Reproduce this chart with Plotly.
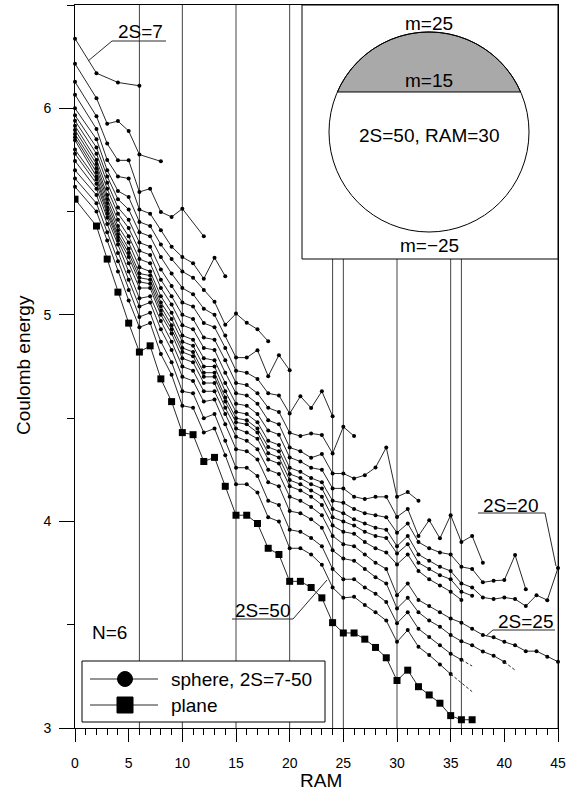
import math
import plotly.graph_objects as go

# ------------------------------------------------------------------ data
RAM_PLANE = [0] + list(range(2, 38))
E_PLANE = [5.56, 5.43, 5.27, 5.11, 4.96, 4.82, 4.85, 4.69, 4.58, 4.43, 4.42, 4.29,
           4.31, 4.17, 4.03, 4.03, 3.99, 3.87, 3.84, 3.71, 3.71, 3.68, 3.63, 3.51,
           3.46, 3.46, 3.43, 3.39, 3.34, 3.23, 3.28, 3.20, 3.16, 3.12, 3.06, 3.04, 3.04]

# sphere curves: energies at RAM = 0, 2, 3, 4, ...  (None = no state)
E_2S07 = [6.337, 6.170, None, 6.125, None, 6.109]
E_2S08 = [6.216, 6.049, 5.925, 5.938, 5.890, 5.776, None, 5.743]
E_2S09 = [6.128, 5.961, 5.829, 5.748, 5.748, 5.595, 5.611, 5.498, 5.474, 5.514, None, 5.380]
E_2S10 = [6.066, 5.90, 5.75, 5.67, 5.66, 5.51, 5.49, 5.41, 5.33, 5.28, 5.25, 5.175, 5.277, 5.187]
E_2S11 = [6.00, 5.85, 5.70, 5.60, 5.57, 5.45, 5.43, 5.34, 5.27, 5.21, 5.18, 5.12, 5.063, 4.952,
          5.006, 4.962, 4.93, 4.872]
E_2S12 = [5.966, 5.81, 5.67, 5.56, 5.51, 5.40, 5.38, 5.28, 5.20, 5.13, 5.10, 5.03, 5.00, 4.90,
          4.793, 4.793, 4.829, 4.703, 4.805, 4.732]
E_2S13 = [5.94, 5.78, 5.64, 5.52, 5.46, 5.35, 5.33, 5.22, 5.14, 5.06, 5.04, 4.96, 4.94, 4.84,
          4.73, 4.72, 4.69, 4.62, 4.61, 4.522, 4.606, 4.549, 4.630, 4.509]
E_2S14 = [5.915, 5.75, 5.61, 5.49, 5.42, 5.31, 5.29, 5.17, 5.09, 5.00, 4.98, 4.89, 4.88, 4.78,
          4.67, 4.66, 4.62, 4.55, 4.53, 4.429, 4.413, 4.426, 4.418, 4.329, 4.458, 4.413]
E_2S16 = [5.895, 5.73, 5.58, 5.46, 5.38, 5.27, 5.25, 5.13, 5.05, 4.95, 4.93, 4.84, 4.83, 4.72,
          4.62, 4.61, 4.57, 4.49, 4.47, 4.358, 4.340, 4.308, 4.326, 4.232, 4.232, 4.208, 4.224,
          4.261, 4.358, 4.119, 4.142, 4.10]
E_2S18 = [5.875, 5.71, 5.56, 5.43, 5.35, 5.23, 5.21, 5.09, 5.01, 4.90, 4.88, 4.79, 4.78, 4.67,
          4.57, 4.56, 4.52, 4.44, 4.42, 4.31, 4.29, 4.26, 4.25, 4.16, 4.16, 4.12, 4.108, 4.119,
          4.119, 4.022, 4.06, 3.93, 4.006, 3.918, 4.030, 3.90, 3.93, 3.80]
E_2S19 = [5.86, 5.69, 5.54, 5.41, 5.32, 5.20, 5.19, 5.06, 4.98, 4.87, 4.85, 4.75, 4.75, 4.63,
          4.53, 4.52, 4.48, 4.39, 4.37, 4.26, 4.24, 4.21, 4.19, 4.10, 4.09, 4.06, 4.04, 4.03,
          4.02, 3.945, 3.99, 3.90, 3.87, 3.85, 3.84, 3.78, 3.77, 3.705, 3.713, 3.716, 3.837, 3.672]
E_2S20 = [5.845, 5.67, 5.52, 5.39, 5.30, 5.18, 5.17, 5.04, 4.95, 4.84, 4.82, 4.72, 4.72, 4.60,
          4.50, 4.49, 4.45, 4.36, 4.34, 4.23, 4.21, 4.18, 4.16, 4.06, 4.04, 4.01, 3.99, 3.97,
          3.96, 3.880, 3.93, 3.84, 3.81, 3.78, 3.76, 3.70, 3.68, 3.632, 3.624, 3.632, 3.624,
          3.590, 3.643, 3.619, 3.775]
E_2S21 = [5.80, 5.655, 5.505, 5.375, 5.28, 5.16, 5.15, 5.02, 4.93, 4.82, 4.80, 4.70, 4.70,
          4.58, 4.48, 4.47, 4.43, 4.33, 4.31, 4.20, 4.18, 4.15, 4.12, 4.02, 4.00, 3.98, 3.95,
          3.93, 3.92, 3.845, 3.89, 3.80, 3.77, 3.74, 3.72, 3.66, 3.64]
E_2S22 = [5.78, 5.635, 5.49, 5.36, 5.25, 5.13, 5.13, 5.00, 4.91, 4.79, 4.77, 4.67, 4.67, 4.55,
          4.45, 4.43, 4.40, 4.30, 4.28, 4.17, 4.15, 4.12, 4.08, 3.98, 3.95, 3.94, 3.90, 3.87,
          3.85, 3.792, 3.84, 3.76, 3.72, 3.69, 3.66, 3.62]
E_2S25 = [5.745, 5.61, 5.47, 5.34, 5.21, 5.08, 5.09, 4.97, 4.87, 4.75, 4.73, 4.63, 4.63, 4.52,
          4.41, 4.39, 4.35, 4.25, 4.23, 4.12, 4.10, 4.07, 4.03, 3.93, 3.89, 3.88, 3.84, 3.80,
          3.77, 3.643, 3.70, 3.62, 3.59, 3.56, 3.53, 3.51, 3.48, 3.45, 3.439, 3.417, 3.40,
          3.372, 3.372, 3.345, 3.321]
E_2S30 = [5.70, 5.58, 5.44, 5.30, 5.17, 5.04, 5.06, 4.93, 4.83, 4.70, 4.68, 4.58, 4.59, 4.47,
          4.35, 4.34, 4.30, 4.19, 4.17, 4.05, 4.04, 4.01, 3.97, 3.86, 3.82, 3.81, 3.77, 3.73,
          3.70, 3.579, 3.63, 3.56, 3.52, 3.49, 3.45, 3.42, 3.40, 3.37, 3.35, 3.32]
E_2S40 = [5.66, 5.54, 5.40, 5.26, 5.12, 4.99, 5.01, 4.87, 4.77, 4.63, 4.62, 4.50, 4.52, 4.39,
          4.26, 4.26, 4.22, 4.10, 4.08, 3.96, 3.95, 3.92, 3.88, 3.77, 3.72, 3.72, 3.68, 3.65,
          3.61, 3.507, 3.56, 3.48, 3.44, 3.40, 3.36, 3.33]
E_2S50 = [5.62, 5.50, 5.36, 5.21, 5.07, 4.94, 4.96, 4.81, 4.71, 4.56, 4.55, 4.43, 4.45, 4.32,
          4.18, 4.18, 4.14, 4.02, 4.00, 3.87, 3.87, 3.84, 3.79, 3.68, 3.63, 3.635, 3.595, 3.56,
          3.52, 3.417, 3.474, 3.393, 3.353, 3.308, 3.261]

SPHERE = [(7, E_2S07), (8, E_2S08), (9, E_2S09), (10, E_2S10), (11, E_2S11), (12, E_2S12),
          (13, E_2S13), (14, E_2S14), (16, E_2S16), (18, E_2S18), (19, E_2S19), (20, E_2S20),
          (21, E_2S21), (22, E_2S22), (25, E_2S25), (30, E_2S30), (40, E_2S40), (50, E_2S50)]

# dashed continuation at the end of the largest-2S curves
TAIL_2S = [30, 40, 50]
TAIL_RAM = [41, 37, 37]
TAIL_E = [3.28, 3.30, 3.176]

VLINES = [6, 10, 15, 20, 24, 25, 30, 35, 36, 45]

# ------------------------------------------------------------------ layout helpers
W, H = 577, 791
ML, MR, MT, MB = 75, 19, 5, 63
PW, PH = W - ML - MR, H - MT - MB


def fx(p):  # pixel x -> paper
    return (p - ML) / PW


def fy(p):  # pixel y -> paper
    return (H - MB - p) / PH


FONT = "Liberation Sans, Arial, Helvetica, sans-serif"
LINEC = "#2a2a2a"

fig = go.Figure()

for s, vals in SPHERE:
    ram = [0] + list(range(2, len(vals) + 1))
    fig.add_trace(go.Scatter(
        x=ram, y=vals, mode="lines+markers", connectgaps=True, name=f"2S={s}",
        line=dict(color=LINEC, width=1), marker=dict(color="black", size=4),
        showlegend=False, cliponaxis=False))

for s, tr, te in zip(TAIL_2S, TAIL_RAM, TAIL_E):
    vals = dict(SPHERE)[s]
    last_ram = len(vals)
    fig.add_trace(go.Scatter(
        x=[last_ram, tr], y=[vals[-1], te], mode="lines",
        line=dict(color=LINEC, width=1, dash="3px,2px"), showlegend=False))

fig.add_trace(go.Scatter(
    x=RAM_PLANE, y=E_PLANE, mode="lines+markers", name="plane",
    line=dict(color=LINEC, width=1), marker=dict(color="black", size=7, symbol="square"),
    showlegend=False))

shapes = []
for v in VLINES:
    shapes.append(dict(type="line", xref="x", yref="paper", x0=v, x1=v, y0=0, y1=1,
                       line=dict(color="#444444", width=1), layer="below"))

# inset
shapes.append(dict(type="rect", xref="paper", yref="paper", x0=fx(302), x1=1.0,
                   y0=fy(259), y1=1.0, fillcolor="white", line=dict(color="black", width=1),
                   layer="above"))
cx, cy, r = 429, 132, 100
a0 = math.asin(40 / r)
pts = []
n = 60
for i in range(n + 1):
    a = a0 + (math.pi - 2 * a0) * i / n
    pts.append((cx + r * math.cos(a), cy - r * math.sin(a)))
path = "M " + " L ".join(f"{fx(p[0]):.5f},{fy(p[1]):.5f}" for p in pts) + " Z"
shapes.append(dict(type="path", xref="paper", yref="paper", path=path,
                   fillcolor="#a9a9a9", line=dict(color="black", width=1), layer="above"))
shapes.append(dict(type="circle", xref="paper", yref="paper", x0=fx(cx - r), x1=fx(cx + r),
                   y0=fy(cy + r), y1=fy(cy - r), line=dict(color="black", width=1),
                   fillcolor="rgba(0,0,0,0)", layer="above"))

# legend box
shapes.append(dict(type="rect", xref="paper", yref="paper", x0=fx(82), x1=fx(325),
                   y0=fy(722), y1=fy(661), fillcolor="white", line=dict(color="black", width=1),
                   layer="above"))
for yy in (679, 705):
    shapes.append(dict(type="line", xref="paper", yref="paper", x0=fx(90), x1=fx(158),
                       y0=fy(yy), y1=fy(yy), line=dict(color=LINEC, width=1), layer="above"))
shapes.append(dict(type="circle", xref="paper", yref="paper", xsizemode="pixel",
                   ysizemode="pixel", xanchor=fx(125), yanchor=fy(679), x0=-7.5, x1=7.5,
                   y0=-7.5, y1=7.5, fillcolor="black", line=dict(color="black", width=1),
                   layer="above"))
shapes.append(dict(type="rect", xref="paper", yref="paper", xsizemode="pixel",
                   ysizemode="pixel", xanchor=fx(125), yanchor=fy(705), x0=-8, x1=8,
                   y0=-8, y1=8, fillcolor="black", line=dict(color="black", width=1),
                   layer="above"))

# label underlines and leaders
def seg(x0, y0, x1, y1):
    shapes.append(dict(type="line", xref="paper", yref="paper", x0=fx(x0), x1=fx(x1),
                       y0=fy(y0), y1=fy(y1), line=dict(color=LINEC, width=1), layer="above"))

seg(112, 41, 166, 41); seg(112, 41, 88, 61)          # 2S=7
seg(478, 513, 545, 513); seg(545, 513, 556, 566)     # 2S=20
seg(493, 630, 555, 630); seg(493, 630, 486, 636)     # 2S=25
seg(232, 619, 293, 619); seg(293, 619, 327, 580)     # 2S=50

ann = []
def txt(x, y, s, size=19, **kw):
    ann.append(dict(xref="paper", yref="paper", x=fx(x), y=fy(y), text=s, showarrow=False,
                    font=dict(family=FONT, size=size, color="black"), xanchor="center",
                    yanchor="middle", **kw))

txt(140, 32, "2S=7")
txt(510, 505, "2S=20")
txt(525, 621, "2S=25")
txt(262, 610, "2S=50")
txt(109, 632, "N=6")
txt(429, 23, "m=25")
txt(429, 81, "m=15")
txt(429, 135, "2S=50, RAM=30")
txt(429, 245, "m=\u221225")
ann.append(dict(xref="paper", yref="paper", x=fx(169), y=fy(679), text="sphere, 2S=7-50",
                showarrow=False, xanchor="left", yanchor="middle",
                font=dict(family=FONT, size=19, color="black")))
ann.append(dict(xref="paper", yref="paper", x=fx(169), y=fy(705), text="plane",
                showarrow=False, xanchor="left", yanchor="middle",
                font=dict(family=FONT, size=19, color="black")))
txt(23, 365, "Coulomb energy", size=19, textangle=-90)
txt(321, 780, "RAM", size=19)

fig.update_layout(
    width=W, height=H, margin=dict(l=ML, r=MR, t=MT, b=MB),
    paper_bgcolor="white", plot_bgcolor="white", shapes=shapes, annotations=ann,
    font=dict(family=FONT, size=14, color="black"),
    xaxis=dict(range=[0, 45], tickmode="linear", tick0=0, dtick=5, ticks="outside",
               ticklen=13, tickcolor="black", tickwidth=1, showgrid=False, zeroline=False,
               showline=True, linecolor="black", linewidth=1, mirror=True,
               ticklabelstandoff=9, tickfont=dict(size=14),
               minor=dict(dtick=1, ticklen=6, ticks="outside", tickcolor="black", showgrid=False)),
    yaxis=dict(range=[3, 6.5], tickmode="linear", tick0=3, dtick=1, ticks="outside",
               ticklen=15, tickcolor="black", tickwidth=1, showgrid=False, zeroline=False,
               showline=True, linecolor="black", linewidth=1, mirror=True,
               ticklabelstandoff=5, tickfont=dict(size=14),
               minor=dict(dtick=0.5, ticklen=7, ticks="outside", tickcolor="black", showgrid=False)),
)

fig.write_html("out.html", config={"displayModeBar": False},
               post_script="document.body.style.margin='0px';")
